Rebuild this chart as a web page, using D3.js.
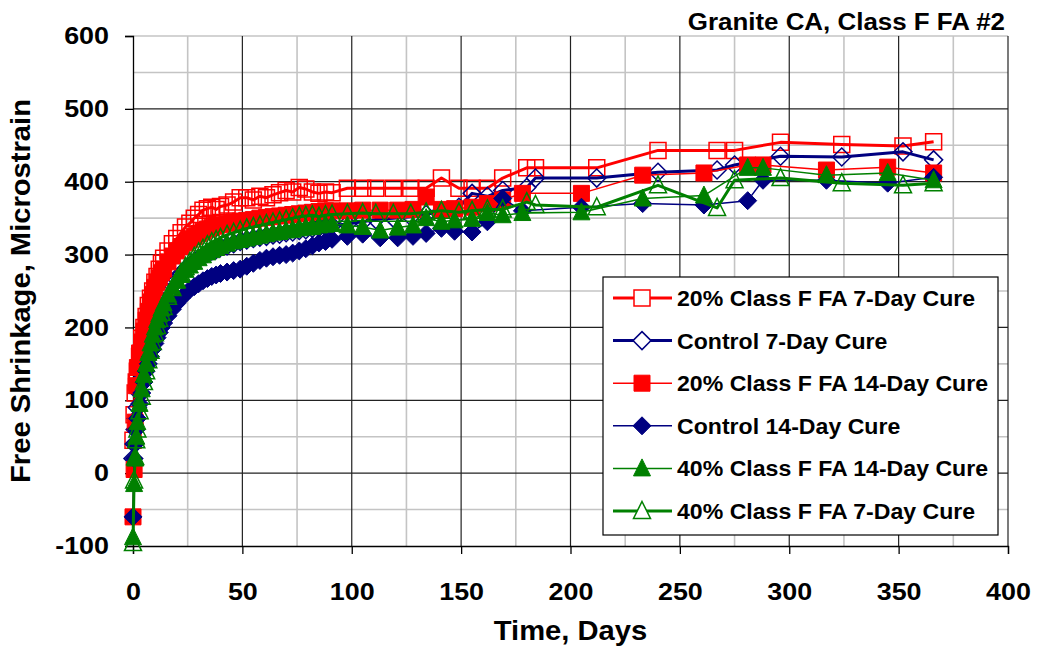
<!DOCTYPE html>
<html><head><meta charset="utf-8">
<script src="https://cdn.jsdelivr.net/npm/d3@7"></script>
<style>
body{margin:0;background:#fff;}
text{font-family:"Liberation Sans",Arial,sans-serif;font-weight:bold;fill:#000;}
</style></head>
<body><svg id="c" width="1039" height="646"></svg>
<script>
// ---- DATA ----
const days7 = [0,0.5,1,1.5,2,3,4,5,6,7,8,9,10,11,12,13,14,16,18,20,22,24,26,28,30,32,34,36,38,40,43,46,49,52,55,58,61,64,67,70,73,76,79,82,85,88,91,98,105,
  111,119,127,134,141,149,155,162,169,180,184,212,240,267,275,296,324,352,366];
const days14 = [0,0.5,1,1.5,2,3,4,5,6,7,8,9,10,11,12,13,14,16,18,20,22,24,26,28,30,32,34,36,38,40,43,46,49,52,55,58,61,64,67,70,73,76,79,82,85,88,91,98,105,
  113,121,128,134,141,147,155,162,169,178,205,233,261,281,288,317,345,366];

const fa20_7 = [45,80,110,125,140,160,185,200,215,230,240,250,262,270,280,288,295,305,315,322,330,338,343,350,355,361,363,365,362,366,
  368,372,378,378,375,380,378,382,385,388,386,392,390,386,384,386,385,391,391,
  391,391,391,391,405,391,391,391,405,419,419,419,443,443,443,454,451,449,455];
const ctrl_7 = [20,40,60,75,90,110,130,145,160,172,185,195,205,212,220,228,235,248,258,266,274,280,285,290,295,298,302,305,307,310,
  312,315,318,320,322,324,325,327,328,330,331,333,334,336,337,338,340,342,345,
  348,350,352,355,360,365,384,380,388,392,405,405,413,416,423,435,434,441,430];
const fa20_14 = [-60,5,70,120,145,165,180,195,210,222,235,245,255,262,268,275,280,290,298,305,311,316,321,325,329,332,335,337,339,341,
  343,345,346,347,348,350,351,352,353,354,355,356,357,358,359,360,360,360,361,
  361,361,362,379,362,363,365,370,375,384,384,409,412,423,423,416,420,412];
const ctrl_14 = [-60,20,40,60,75,95,110,125,140,150,160,170,178,186,193,200,206,216,225,233,240,246,252,256,260,264,267,270,272,274,
  276,278,280,284,288,292,295,297,299,300,302,305,308,312,316,318,321,325,328,
  323,323,325,329,336,332,331,345,377,360,365,370,368,374,402,402,398,406];
const fa40_14 = [-88,-15,20,50,70,95,115,135,150,165,178,190,200,210,218,226,233,245,255,264,272,279,285,290,295,299,303,306,309,312,
  315,318,320,322,324,326,328,330,331,333,334,336,337,338,340,341,342,340,338,
  333,337,340,350,345,347,349,357,354,357,358,377,381,419,419,409,412,402];
const fa40_7 = [-96,-10,22,45,60,85,105,125,140,155,168,180,192,202,212,220,228,242,254,265,275,283,290,297,303,308,313,317,320,323,
  327,330,333,336,338,340,342,344,346,348,350,352,353,354,352,354,355,356,357,
  356,356,356,358,360,358,360,362,362,372,368,365,395,364,402,405,398,395,398];

const seriesNames = ["20% Class F FA 7-Day Cure","Control 7-Day Cure","20% Class F FA 14-Day Cure","Control 14-Day Cure","40% Class F FA 14-Day Cure","40% Class F FA 7-Day Cure"];
const xTicks = [0,50,100,150,200,250,300,350,400];
const yTicks = [-100,0,100,200,300,400,500,600];
const chartTitle = "Granite CA, Class F FA #2";
const xTitle = "Time, Days";
const yTitle = "Free Shrinkage, Microstrain";

// ---- STYLE ----
const RED="#FF0000", NAVY="#000080", GREEN="#008000";
const series = [
  {name:seriesNames[0], days:days7,  vals:fa20_7,  color:RED,   shape:"square",   filled:false, lw:3},
  {name:seriesNames[1], days:days7,  vals:ctrl_7,  color:NAVY,  shape:"diamond",  filled:false, lw:3},
  {name:seriesNames[2], days:days14, vals:fa20_14, color:RED,   shape:"square",   filled:true,  lw:1.5},
  {name:seriesNames[3], days:days14, vals:ctrl_14, color:NAVY,  shape:"diamond",  filled:true,  lw:1.5},
  {name:seriesNames[4], days:days14, vals:fa40_14, color:GREEN, shape:"triangle", filled:true,  lw:1.5},
  {name:seriesNames[5], days:days7,  vals:fa40_7,  color:GREEN, shape:"triangle", filled:false, lw:3}
];

const svg = d3.select("#c");
const L=133,R=1008,T=36,B=546;
const x = d3.scaleLinear().domain([0,400]).range([L,R]);
const y = d3.scaleLinear().domain([-100,600]).range([B,T]);

// minor grid
const g = svg.append("g");
d3.range(25,400,50).forEach(v=>g.append("line").attr("x1",x(v)).attr("x2",x(v)).attr("y1",T).attr("y2",B).attr("stroke","#c4c4c4").attr("stroke-width",1.6));
d3.range(-50,600,100).forEach(v=>g.append("line").attr("x1",L).attr("x2",R).attr("y1",y(v)).attr("y2",y(v)).attr("stroke","#c4c4c4").attr("stroke-width",1.6));
g.append("line").attr("x1",L).attr("x2",R).attr("y1",T).attr("y2",T).attr("stroke","#c4c4c4").attr("stroke-width",1.6);
// major grid
xTicks.filter(v=>v>0).forEach(v=>g.append("line").attr("x1",x(v)).attr("x2",x(v)).attr("y1",T).attr("y2",B).attr("stroke","#222").attr("stroke-width",1.2));
yTicks.filter(v=>v>-100&&v<600).forEach(v=>g.append("line").attr("x1",L).attr("x2",R).attr("y1",y(v)).attr("y2",y(v)).attr("stroke","#222").attr("stroke-width",1.2));

// axes
const TS=24, SX=1.12;
const xa = svg.append("g").attr("transform",`translate(0,${B})`)
  .call(d3.axisBottom(x).tickValues(xTicks).tickFormat(v=>String(v)).tickSize(8).tickPadding(29));
const ya = svg.append("g").attr("transform",`translate(${L},0)`)
  .call(d3.axisLeft(y).tickValues(yTicks).tickFormat(v=>String(v)).tickSize(8).tickPadding(16));
[xa,ya].forEach(a=>{a.attr("font-family",null).attr("font-size",null);
  a.selectAll("path,line").attr("stroke","#000").attr("stroke-width",1.3);
  a.selectAll("text").attr("font-size",TS).attr("fill","#000");});
xa.selectAll("text").attr("transform",`scale(${SX},1)`);
ya.selectAll("text").attr("x",-24/SX).attr("transform",`scale(${SX},1)`);

function shapePath(shape){
  if(shape==="square") return "M-8,-8H8V8H-8Z";
  if(shape==="diamond") return "M0,-9L9,0L0,9L-9,0Z";
  return "M0,-9.5L8.5,7.5L-8.5,7.5Z";
}

const plot = svg.append("g");
series.forEach(s=>{
  const n=Math.min(s.days.length,s.vals.length);
  const pts=d3.range(n).map(i=>[s.days[i],s.vals[i]]);
  const gs=plot.append("g");
  gs.append("path").datum(pts)
    .attr("d",d3.line().x(d=>x(d[0])).y(d=>y(d[1])))
    .attr("fill","none").attr("stroke",s.color).attr("stroke-width",s.lw).attr("stroke-linejoin","round");
  gs.selectAll("path.m").data(pts).enter().append("path").attr("class","m")
    .attr("transform",d=>`translate(${x(d[0])},${y(d[1])})`)
    .attr("d",shapePath(s.shape))
    .attr("fill",s.filled?s.color:"none").attr("stroke",s.color).attr("stroke-width",s.filled?1:1.5);
});

// titles
function stext(parent,tx,ty,str,fs,sx,anchor,rot){
  return parent.append("text")
    .attr("transform",`translate(${tx},${ty})${rot?` rotate(${rot})`:""} scale(${sx},1)`)
    .attr("text-anchor",anchor).attr("font-size",fs).text(str);
}
stext(svg,1005,30,chartTitle,24,1.08,"end");
stext(svg,(L+R)/2,640,xTitle,27,1.08,"middle");
stext(svg,30,(T+B)/2,yTitle,27,1.08,"middle",-90);

// legend
const lg = svg.append("g");
lg.append("rect").attr("x",603).attr("y",277).attr("width",395).attr("height",258).attr("fill","#fff").attr("stroke","#000").attr("stroke-width",1.2);
series.forEach((s,i)=>{
  const cy=298+i*42.6;
  lg.append("line").attr("x1",613).attr("x2",672).attr("y1",cy).attr("y2",cy).attr("stroke",s.color).attr("stroke-width",s.lw);
  lg.append("path").attr("transform",`translate(642,${cy})`).attr("d",shapePath(s.shape))
    .attr("fill",s.filled?s.color:"#fff").attr("stroke",s.color).attr("stroke-width",s.filled?1:1.5);
  stext(lg,677,cy+8,s.name,22,1.05,"start");
});
</script></body></html>
